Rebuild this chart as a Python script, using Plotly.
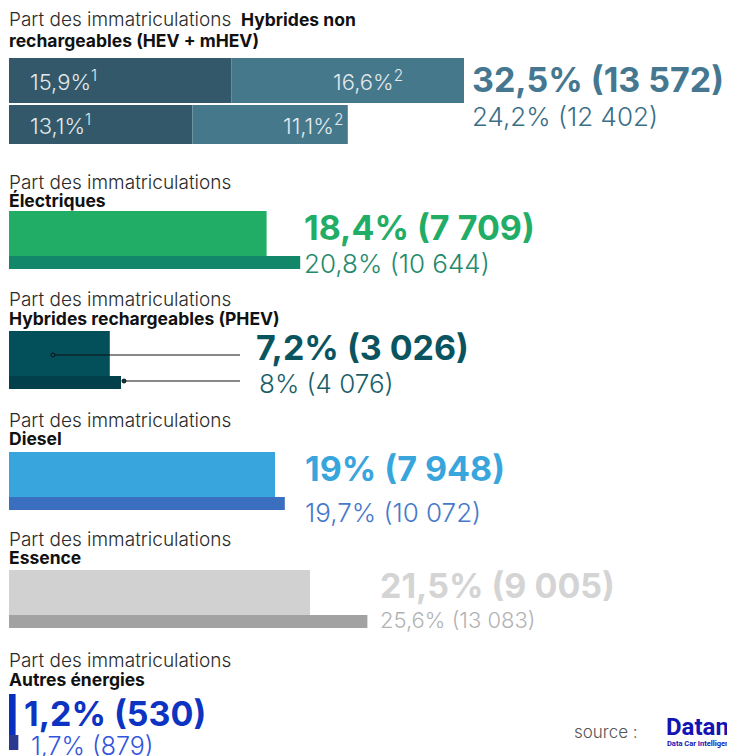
import plotly.graph_objects as go

# ---------------- data ----------------
categories = ["Hybrides non rechargeables (HEV + mHEV)", "Électriques",
              "Hybrides rechargeables (PHEV)", "Diesel", "Essence", "Autres énergies"]
share_current = [32.5, 18.4, 7.2, 19.0, 21.5, 1.2]
count_current = [13572, 7709, 3026, 7948, 9005, 530]
share_previous = [24.2, 20.8, 8.0, 19.7, 25.6, 1.7]
count_previous = [12402, 10644, 4076, 10072, 13083, 879]
hev_parts_current = [15.9, 16.6]
hev_parts_previous = [13.1, 11.1]

# ---------------- styling / layout constants ----------------
W, H = 735, 756
OFF = 8           # page body margin: figure starts at screen (8, 8)
FW, FH = W - OFF, H - OFF
X0 = 9            # screen pixel where bars start
SCALE = 14.0      # px per percent (main sections)
SCALE_SMALL = 5.5 # px per percent (Autres énergies)
PAD = 2           # annotation inner padding compensation

top_color = ["#46788c", "#21ad66", "#03505b", "#38a6dc", "#d1d1d1", "#0a2fbf"]
bot_color = ["#46788c", "#12876a", "#02404c", "#3a6ebf", "#a2a2a2", "#2b3990"]
big_color = ["#457890", "#22ad67", "#0a5460", "#38a6dc", "#d4d4d4", "#0c33c2"]
sub_color = ["#3b6e87", "#238a6c", "#1a5f6a", "#4679c9", "#b3b3b3", "#3355dd"]
hev_dark, hev_light = "#325869", "#46788c"

top_bar = [(80.5, 45), (233.5, 45), (353.5, 45), (474.5, 45), (592.5, 45), (714.5, 41)]
bot_bar = [(124.5, 39), (262.5, 13), (382.5, 13), (503.5, 13), (621.5, 13), (742.5, 15)]
title_y = [(19, 40), (182, 200), (299, 318), (420, 438), (539, 557), (660, 679)]
big_pos = [(472, 79), (304, 227), (256, 347), (305, 468), (380, 585), (24, 713)]
sub_pos = [(472, 116), (304, 263), (259, 383), (305, 512), (380, 620), (31, 746)]
big_size = [34, 34, 34, 34, 34, 34]
sub_size = [26, 26, 26, 26, 22, 25]

FONT = "Inter"


def fr_pct(v):
    s = f"{v:.1f}".replace(".", ",")
    if s.endswith(",0"):
        s = s[:-2]
    return s + "%"


def fr_int(n):
    return f"{n:,}".replace(",", " ")


def px(x):
    return (x - OFF) / FW


fig = go.Figure()

# HEV stacked bars
fig.add_trace(go.Bar(orientation="h",
                     x=[hev_parts_current[0], hev_parts_previous[0]], base=[0, 0],
                     y=[top_bar[0][0], bot_bar[0][0]], width=[top_bar[0][1], bot_bar[0][1]],
                     marker=dict(color=hev_dark, line=dict(width=0)), hoverinfo="skip"))
fig.add_trace(go.Bar(orientation="h",
                     x=[hev_parts_current[1], hev_parts_previous[1]],
                     base=[hev_parts_current[0], hev_parts_previous[0]],
                     y=[top_bar[0][0], bot_bar[0][0]], width=[top_bar[0][1], bot_bar[0][1]],
                     marker=dict(color=hev_light, line=dict(width=0)), hoverinfo="skip"))

# Other sections
for i in range(1, 6):
    fig.add_trace(go.Bar(orientation="h",
                         x=[share_current[i], share_previous[i]], base=[0, 0],
                         y=[top_bar[i][0], bot_bar[i][0]],
                         width=[top_bar[i][1], bot_bar[i][1]],
                         marker=dict(color=[top_color[i], bot_color[i]], line=dict(width=0)),
                         xaxis="x2" if i == 5 else "x", hoverinfo="skip"))

ann = []


def add_text(txt, x, y, size, color, weight=400, anchor="left", family=FONT):
    xx = x - PAD if anchor == "left" else x + PAD
    ann.append(dict(text=txt, x=px(xx), y=y, xref="paper", yref="y",
                    xanchor=anchor, yanchor="middle", showarrow=False,
                    font=dict(family=family, size=size, color=color, weight=weight)))


# titles
for i, cat in enumerate(categories):
    y1, y2 = title_y[i]
    add_text("Part des immatriculations", X0, y1, 19, "#2a2a2a", 300)
    if i == 0:
        add_text("Hybrides non", 241, y1, 17.5, "#111111", 700)
        add_text("rechargeables (HEV + mHEV)", X0, y2, 17.5, "#111111", 700)
    else:
        add_text(cat, X0, y2, 17.5, "#111111", 700)

# big / sub labels
for i in range(6):
    add_text(f"{fr_pct(share_current[i])} ({fr_int(count_current[i])})",
             big_pos[i][0], big_pos[i][1], big_size[i], big_color[i], 700)
    add_text(f"{fr_pct(share_previous[i])} ({fr_int(count_previous[i])})",
             sub_pos[i][0], sub_pos[i][1], sub_size[i], sub_color[i], 300)

# HEV segment labels
seg_c = "#e3e9ec"
add_text(f"{fr_pct(hev_parts_current[0])}<sup>1</sup>", 30, top_bar[0][0], 22, seg_c, 300)
add_text(f"{fr_pct(hev_parts_current[1])}<sup>2</sup>", 403, top_bar[0][0], 22, seg_c, 300, "right")
add_text(f"{fr_pct(hev_parts_previous[0])}<sup>1</sup>", 30, bot_bar[0][0], 22, seg_c, 300)
add_text(f"{fr_pct(hev_parts_previous[1])}<sup>2</sup>", 343, bot_bar[0][0], 22, seg_c, 300, "right")

# source + logo
add_text("source :", 574, 732, 17, "#555555", 300)
add_text("<b>Datan</b>", 666, 727, 24, "#1414b4", 700, family="Roboto")
add_text("<b>Data Car Intelligence</b>", 667, 743, 7.5, "#1414b4", 700, family="Roboto")

shapes = [
    # PHEV leader lines
    dict(type="line", xref="paper", yref="y", x0=px(53), x1=px(240), y0=355, y1=355,
         line=dict(color="#111111", width=1)),
    dict(type="line", xref="paper", yref="y", x0=px(124), x1=px(240), y0=381, y1=381,
         line=dict(color="#111111", width=1)),
    dict(type="circle", xref="paper", yref="y", x0=px(51), x1=px(55), y0=353, y1=357,
         line=dict(color="#111111", width=1), fillcolor="#03505b"),
    dict(type="circle", xref="paper", yref="y", x0=px(122), x1=px(126), y0=379, y1=383,
         line=dict(color="#111111", width=1), fillcolor="#02404c"),
]

fig.update_layout(
    width=FW, height=FH, margin=dict(l=0, r=0, t=0, b=0),
    paper_bgcolor="white", plot_bgcolor="white",
    barmode="overlay", showlegend=False,
    xaxis=dict(range=[(OFF - X0) / SCALE, (W - X0) / SCALE], visible=False, fixedrange=True),
    xaxis2=dict(range=[(OFF - X0) / SCALE_SMALL, (W - X0) / SCALE_SMALL], visible=False,
                overlaying="x", fixedrange=True),
    yaxis=dict(range=[H, OFF], visible=False, fixedrange=True),
    annotations=ann, shapes=shapes,
)

fig.write_html("out.html")
